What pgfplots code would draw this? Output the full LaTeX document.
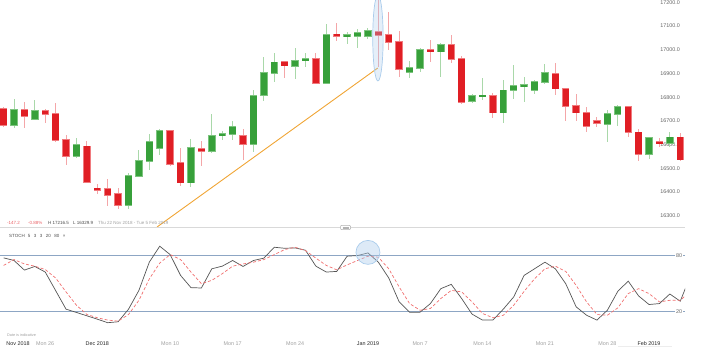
\documentclass[border=0pt]{standalone}
\usepackage{pgfplots}
\pgfplotsset{compat=1.18}
\usepackage{pgfplotstable}
\usepackage{fontspec}
\setmainfont{Liberation Sans}
\definecolor{cred}{HTML}{E01E24}
\definecolor{cgreen}{HTML}{37A03A}
\definecolor{bred}{HTML}{F07A7E}
\definecolor{bgreen}{HTML}{7CC47E}
\definecolor{wred}{HTML}{F4A6A8}
\definecolor{wgreen}{HTML}{A9D8A9}
\definecolor{lvl}{HTML}{8DA6C4}
\definecolor{hl}{HTML}{A9CBEB}
\definecolor{tgray}{HTML}{666666}
\definecolor{lgray}{HTML}{A0A0A0}
\definecolor{korange}{HTML}{F0A535}
\definecolor{kline}{HTML}{555555}
\definecolor{dline}{HTML}{F07070}

\pgfplotstableread{
i bl bh l h
1 16683 16750 16675 16759
3 16721 16746 16670 16780
5 16729 16742 16691 16750
6 16620 16729 16611 16776
7 16552 16620 16514 16641
9 16443 16594 16439 16616
10 16409 16417 16392 16434
11 16388 16413 16342 16455
12 16346 16392 16330 16417
17 16519 16658 16510 16662
18 16439 16523 16426 16586
20 16573 16582 16510 16616
24 16603 16637 16536 16666
28 16932 16948 16881 16950
31 16860 16961 16856 16986
33 17058 17066 17037 17113
37 17062 17075 16927 17216.5
38 17033 17062 16999 17159
39 16919 17033 16885 17079
42 16991 16999 16948 17041
44 16961 17020 16944 17062
45 16780 16961 16771 16974
48 16734 16805 16712 16818
54 16835 16898 16809 16944
55 16763 16835 16700 16839
56 16734 16763 16700 16814
57 16679 16734 16653 16759
58 16691 16700 16675 16717
61 16653 16759 16632 16763
62 16561 16653 16531 16666
64 16605 16611 16590 16628
66 16536 16632 16531 16649
}\reddata

\pgfplotstableread{
i bl bh l h
2 16683 16746 16670 16793
4 16708 16742 16704 16788
8 16552 16599 16544 16628
13 16346 16468 16330 16481
14 16468 16531 16464 16578
15 16531 16611 16493 16645
16 16586 16658 16557 16666
19 16439 16586 16422 16624
21 16573 16637 16565 16729
22 16637 16645 16620 16658
23 16645 16675 16620 16700
25 16603 16805 16569 16830
26 16809 16902 16784 16970
27 16902 16948 16864 16986
29 16932 16953 16877 17007
30 16953 16961 16927 16986
32 16860 17062 16860 17109
34 17056 17062 17024 17075
35 17058 17071 17007 17088
36 17058 17079 17045 17092
40 16906 16923 16881 16953
41 16923 16999 16906 17007
43 16991 17020 16885 17028
46 16784 16805 16776 16814
47 16803 16809 16788 16881
49 16734 16830 16691 16873
50 16830 16847 16793 16936
51 16846 16852 16780 16885
52 16830 16864 16814 16873
53 16864 16902 16856 16940
59 16687 16729 16611 16746
60 16729 16759 16679 16767
63 16561 16628 16540 16628
65 16607 16632 16590 16653
}\greendata

\pgfplotstableread{
i k d
1 77.5 69.4
2 74.7 75.7
3 64.4 71
4 68.3 68.6
5 62.3 65
6 42.4 55.9
7 22.5 41
8 19 26.7
9 15.4 16.8
10 11.8 13.3
11 8 10.8
12 9 9.7
13 22.5 16.8
14 42.7 32
15 73 55
16 90 72
17 81 81
18 58.7 75.7
19 45.6 62.3
20 45.2 49.8
21 65.8 53.4
22 68.6 60.5
23 74.7 68.6
24 68.3 71
25 74.7 72.9
26 77.2 75.7
27 88.9 81
28 87.8 86.4
29 88.2 88.9
30 85.7 85.3
31 68.6 77.2
32 62.3 69.4
33 63 64.7
34 79.3 70
35 80 74.7
36 82.8 79.3
37 72.9 78.2
38 55.9 65.8
39 30.3 46.3
40 19.3 28.5
41 19.3 21.4
42 28.5 23.2
43 44.5 33.9
44 49.1 42.7
45 33.9 41
46 17.2 30.3
47 10.8 17.9
48 10.8 13.3
49 22.5 16
50 35.6 26.7
51 58.7 41.6
52 65.8 55
53 72.9 65.8
54 65.8 68.6
55 49.8 63
56 25 48
57 16 30.3
58 10.8 16.8
59 21.4 16
60 41.6 23.9
61 52.6 39.2
62 36.7 44.5
63 27.5 39.2
64 28.5 30.3
65 38.8 32
66 31 32
67 59 42
}\stochdata

\newcommand{\lab}{\fontsize{5.4}{6}\selectfont}
\newcommand{\infofont}{\fontsize{4.5}{5}\selectfont}
\pgfplotsset{
  candle/.style n args={2}{draw=none, mark=none, forget plot,
    error bars/.cd, y dir=both, y explicit, error mark=none,
    error bar style={draw=#1, line width=#2, line cap=butt}},
}

\begin{document}
\begin{tikzpicture}
\begin{axis}[
  at={(0pt,125pt)}, anchor=south west,
  width=685pt, height=227pt, scale only axis,
  xmin=0.6542, xmax=66.456, ymin=16253.1, ymax=17209.7,
  set layers,
  axis line style={draw=none},
  xtick=\empty,
  ytick={16300,16400,...,17200},
  scaled y ticks=false,
  yticklabel pos=right,
  major tick length=0pt,
  y tick label style={anchor=east, xshift=-1.5pt, font=\lab, text=tgray,
    /pgf/number format/.cd, fixed, fixed zerofill, precision=1, 1000 sep={}, assume math mode=true},
]
% wicks
\addplot[candle={wred}{1pt}]
  table[x=i, y=bl, y error plus expr=\thisrow{h}-\thisrow{bl}, y error minus expr=\thisrow{bl}-\thisrow{l}] {\reddata};
\addplot[candle={wgreen}{1pt}]
  table[x=i, y=bl, y error plus expr=\thisrow{h}-\thisrow{bl}, y error minus expr=\thisrow{bl}-\thisrow{l}] {\greendata};
% bodies: outline
\addplot[candle={bred}{7.4pt}]
  table[x=i, y expr=(\thisrow{bl}+\thisrow{bh})/2, y error expr=(\thisrow{bh}-\thisrow{bl})/2+2.5] {\reddata};
\addplot[candle={bgreen}{7.4pt}]
  table[x=i, y expr=(\thisrow{bl}+\thisrow{bh})/2, y error expr=(\thisrow{bh}-\thisrow{bl})/2+2.5] {\greendata};
% bodies: fill
\addplot[candle={cred}{6.4pt}]
  table[x=i, y expr=(\thisrow{bl}+\thisrow{bh})/2, y error expr=(\thisrow{bh}-\thisrow{bl})/2] {\reddata};
\addplot[candle={cgreen}{6.4pt}]
  table[x=i, y expr=(\thisrow{bl}+\thisrow{bh})/2, y error expr=(\thisrow{bh}-\thisrow{bl})/2] {\greendata};
% trend line
\addplot[korange, line width=0.9pt, forget plot] coordinates {(15.74,16253.1) (36.94,16923)};
% highlight ellipse
\draw[draw=hl, fill=hl, fill opacity=0.3, line width=0.7pt]
  (axis cs:36.96,17049.6) ellipse [x radius=5.2pt, y radius=43pt];
\end{axis}

\begin{axis}[
  at={(0pt,19.03pt)}, anchor=south west,
  width=685pt, height=97.94pt, scale only axis,
  xmin=0.6542, xmax=66.456, ymin=-3, ymax=102,
  set layers,
  axis line style={draw=none},
  ytick={20,80},
  ymajorgrids, grid style={lvl, line width=0.8pt},
  yticklabel pos=right,
  major tick length=0pt,
  y tick label style={anchor=east, xshift=-2pt, fill=white, inner sep=0.8pt, font=\lab, text=tgray,
    /pgf/number format/assume math mode=true},
  xtick={2.38,5,10,17,23,29,36,41,47,53,59,63},
  xticklabels={\textcolor{black!85}{Nov 2018},\textcolor{lgray}{Mon 26},\textcolor{black!85}{Dec 2018},\textcolor{lgray}{Mon 10},\textcolor{lgray}{Mon 17},\textcolor{lgray}{Mon 24},\textcolor{black!85}{Jan 2019},\textcolor{lgray}{Mon 7},\textcolor{lgray}{Mon 14},\textcolor{lgray}{Mon 21},\textcolor{lgray}{Mon 28},\textcolor{black!85}{Feb 2019}},
  x tick label style={font=\lab, anchor=base, yshift=-12.5pt},
]
\addplot[kline, line width=0.7pt] table[x=i, y=k] {\stochdata};
\addplot[dline, line width=0.7pt, dash pattern=on 3pt off 2pt] table[x=i, y=d] {\stochdata};
\draw[draw=hl, fill=hl, fill opacity=0.4, line width=0.7pt]
  (axis cs:36,83.4) circle [radius=12pt];
\end{axis}

% separator with handle
\draw[black!15, line width=0.8pt] (0pt,124.5pt) -- (685pt,124.5pt);
\draw[black!30, fill=white, line width=0.5pt, rounded corners=1pt] (340.5pt,122.3pt) rectangle (350.5pt,126.7pt);
\draw[black!30, line width=0.3pt] (342.5pt,123.8pt) -- (348.5pt,123.8pt) (342.5pt,125.2pt) -- (348.5pt,125.2pt);

% info row
\node[anchor=base west, inner sep=0pt, font=\infofont, text=cred!70] at (7pt,127.3pt) {-147.2};
\node[anchor=base west, inner sep=0pt, font=\infofont, text=cred!70] at (28pt,127.3pt) {-0.88\%};
\node[anchor=base west, inner sep=0pt, font=\infofont, text=black!70] at (48pt,127.3pt) {H 17216.5};
\node[anchor=base west, inner sep=0pt, font=\infofont, text=black!70] at (73pt,127.3pt) {L 16329.9};
\node[anchor=base west, inner sep=0pt, font=\infofont, text=lgray] at (98pt,127.3pt) {Thu 22 Nov 2018 - Tue 5 Feb 2019};
% stoch label
\node[anchor=base west, inner sep=0pt, font=\infofont, text=black!70] at (9pt,114.5pt)
  {STOCH\hspace{3pt}5\hspace{3.5pt}3\hspace{3.5pt}3\hspace{3.5pt}20\hspace{3.5pt}80\hspace{3.5pt}×};
% date note
\node[anchor=base west, inner sep=0pt, font=\fontsize{3.8}{4}\selectfont, text=lgray] at (7pt,15pt) {Date is indicative};
\draw[black!7, line width=0.8pt] (618pt,5.8pt) -- (672pt,5.8pt);
\pgfresetboundingbox
\path[use as bounding box] (0pt,0pt) rectangle (701pt,352pt);
\end{tikzpicture}
\end{document}
